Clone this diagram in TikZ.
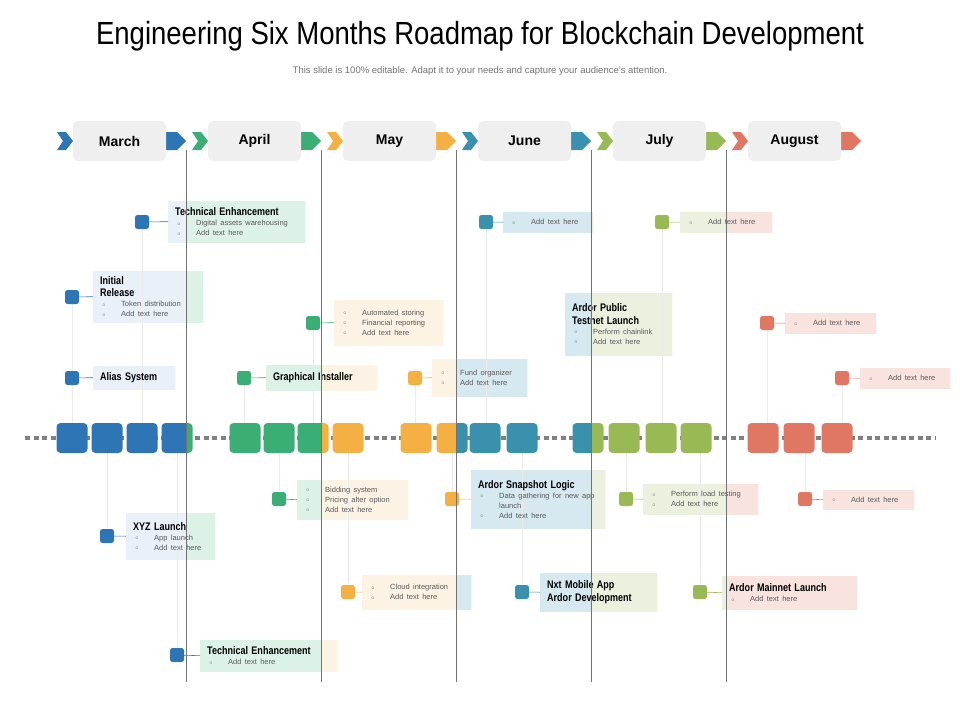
\documentclass[tikz,border=0pt]{standalone}
\usepackage{fontspec}
\setmainfont{Liberation Sans}
\newfontfamily\narrowbold[FakeStretch=0.82]{Liberation Sans Bold}
\newfontfamily\narrowtitle[FakeStretch=0.86]{Liberation Sans}
\usetikzlibrary{backgrounds}
% month colours: S = solid, T = tint
\definecolor{marS}{HTML}{2E75B6}\definecolor{marT}{HTML}{E9F0F8}
\definecolor{aprS}{HTML}{3AAE74}\definecolor{aprT}{HTML}{DDF2E7}
\definecolor{mayS}{HTML}{F4B043}\definecolor{mayT}{HTML}{FDF3E4}
\definecolor{junS}{HTML}{3A91AD}\definecolor{junT}{HTML}{D6E8F0}
\definecolor{julS}{HTML}{99B955}\definecolor{julT}{HTML}{EBF0DF}
\definecolor{augS}{HTML}{E07762}\definecolor{augT}{HTML}{F8E3DF}
\definecolor{headgrey}{HTML}{EFEFEF}
\newcommand\bandfill[1]{%
  \foreach \a/\b/\c in {0/186/mar,186/321/apr,321/456/may,456/591/jun,591/726/jul,726/960/aug}
    {\fill[\c#1] (\a,0) rectangle (\b,720);}}
\newcommand\hd[1]{{\narrowbold\fontsize{11}{12.5}\selectfont\color{black}#1\par}}
\newcommand\bul[1]{{\fontsize{7.5}{10}\selectfont\color{black!65}\hangindent=21pt\hangafter=1\noindent\makebox[21pt][l]{\hspace{2pt}\raisebox{0.5pt}{\tiny$\circ$}}#1\par}}
% name, marker x, marker y, colour, box x1, y1, x2, y2, text
\newcommand\roadtag[9]{%
  \pgfmathsetmacro\tagw{#7-#5}\pgfmathsetmacro\tagh{#8-#6}\pgfmathsetmacro\tagtw{#7-#5-14}
  \node[marker, fill=#4S] (m#1) at (#2,#3) {};
  \node[tagtext, anchor=north west, minimum width=\tagw pt, minimum height=\tagh pt, text width=\tagtw pt] (t#1) at (#5,#6) {#9};
  \begin{pgfonlayer}{background}
    \begin{scope}\clip (t#1.south west) rectangle (t#1.north east); \bandfill{T}\end{scope}
  \end{pgfonlayer}
  \draw[#4S, semithick] (m#1) -- (t#1.west);
}
\tikzset{
  marker/.style={rounded corners=2.5pt, minimum size=14pt, inner sep=0pt},
  tagtext/.style={inner xsep=7pt, inner ysep=3pt, align=left},
  vline/.style={black!8, thin},
  monthline/.style={black!55, semithick},
  monthbox/.style={fill=headgrey, rounded corners=5pt, minimum width=93pt, minimum height=40pt, font=\fontsize{14}{14}\selectfont\bfseries},
}
\begin{document}
\begin{tikzpicture}[x=1pt,y=-1pt]
  \useasboundingbox (0,0) rectangle (960,720);
  %title
  \node (title) at (480,36) {\narrowtitle\fontsize{32}{34}\selectfont Engineering Six Months Roadmap for Blockchain Development};
  \node[text=black!55] (sub) at (480,71) {\fontsize{9.5}{11}\selectfont This slide is 100\% editable. Adapt it to your needs and capture your audience's attention.};

  %header chevrons
  \foreach \m/\c [count=\i from 0] in {March/mar,April/apr,May/may,June/jun,July/jul,August/aug}{
    \pgfmathsetmacro\xo{\i*135}
    \fill[\c S] (\xo+57,132) -- (\xo+66,132) -- (\xo+73,141) -- (\xo+66,150) -- (\xo+57,150) -- (\xo+63,141) -- cycle;
    \fill[\c S] (\xo+166,132) -- (\xo+177,132) -- (\xo+186,141) -- (\xo+177,150) -- (\xo+166,150) -- cycle;
    \node[monthbox] (h\i) at (\xo+119.5,141) {\m};
  }

  %item stems (behind the timeline)
  \foreach \x/\y in {142/222,72/297,72/378,244/378,313/323,415/378,486/222,662/222,767/323,842/378,
                     279/499,107/536,348/592,177/655,452/499,522/592,626/499,700/592,805/499}
    \draw[vline] (\x,438) -- (\x,\y);

  %timeline
  \draw[black!50, line width=4pt, dash pattern=on 5pt off 3.5pt] (25,438) -- (935,438);
  \begin{scope}
    \clip[rounded corners=4pt] \foreach \c in {72,107,142,177,245,279,313,348,416,452,485,522,588,624,661,696,763,799,837}
      {(\c-15.5,423) rectangle (\c+15.5,453)};
    \bandfill{S}
  \end{scope}

  %top items
  \roadtag{1}{142}{222}{mar}{168}{201}{305}{242}{\hd{Technical Enhancement}\bul{Digital assets warehousing}\bul{Add text here}}
  \roadtag{2}{72}{297}{mar}{93}{271}{203}{322}{\hd{Initial\\Release}\bul{Token distribution}\bul{Add text here}}
  \roadtag{3}{72}{378}{mar}{93}{366}{175}{389}{\hd{Alias System}}
  \roadtag{4}{244}{378}{apr}{266}{365}{377}{390}{\hd{Graphical Installer}}
  \roadtag{5}{313}{323}{apr}{334}{300}{443}{345}{\bul{Automated storing}\bul{Financial reporting}\bul{Add text here}}
  \roadtag{6}{415}{378}{may}{432}{359}{527}{396}{\bul{Fund organizer}\bul{Add text here}}
  \roadtag{7}{486}{222}{jun}{503}{212}{593}{232}{\bul{Add text here}}
  \roadtag{8}{662}{222}{jul}{680}{212}{772}{232}{\bul{Add text here}}
  \node[tagtext, anchor=north west, minimum width=107pt, minimum height=62pt, text width=93pt] (t9) at (565,293)
    {\hd{Ardor Public\\Testnet Launch}\bul{Perform chainlink}\bul{Add text here}};
  \begin{pgfonlayer}{background}
    \begin{scope}\clip (t9.south west) rectangle (t9.north east); \bandfill{T}\end{scope}
  \end{pgfonlayer}
  \roadtag{10}{767}{323}{aug}{785}{313}{876}{333}{\bul{Add text here}}
  \roadtag{11}{842}{378}{aug}{860}{368}{950}{388}{\bul{Add text here}}

  %bottom items
  \roadtag{12}{279}{499}{apr}{297}{480}{408}{519}{\bul{Bidding system}\bul{Pricing alter option}\bul{Add text here}}
  \roadtag{13}{107}{536}{mar}{126}{513}{215}{559}{\hd{XYZ Launch}\bul{App launch}\bul{Add text here}}
  \roadtag{14}{348}{592}{may}{362}{575}{471}{609}{\bul{Cloud integration}\bul{Add text here}}
  \roadtag{15}{177}{655}{mar}{200}{640}{337}{671}{\hd{Technical Enhancement}\bul{Add text here}}
  \roadtag{16}{452}{499}{may}{471}{470}{605}{528}{\hd{Ardor Snapshot Logic}\bul{Data gathering for new app launch}\bul{Add text here}}
  \roadtag{17}{522}{592}{jun}{540}{573}{657}{611}{\hd{Nxt Mobile App\\Ardor Development}}
  \roadtag{18}{626}{499}{jul}{643}{484}{758}{514}{\bul{Perform load testing}\bul{Add text here}}
  \roadtag{19}{700}{592}{jul}{722}{576}{857}{609}{\hd{Ardor Mainnet Launch}\bul{Add text here}}
  \roadtag{20}{805}{499}{aug}{823}{490}{914}{509}{\bul{Add text here}}

  %month dividers
  \foreach \x in {186,321,456,591,726}
    \draw[monthline] (\x,150) -- (\x,682);
\end{tikzpicture}
\end{document}
